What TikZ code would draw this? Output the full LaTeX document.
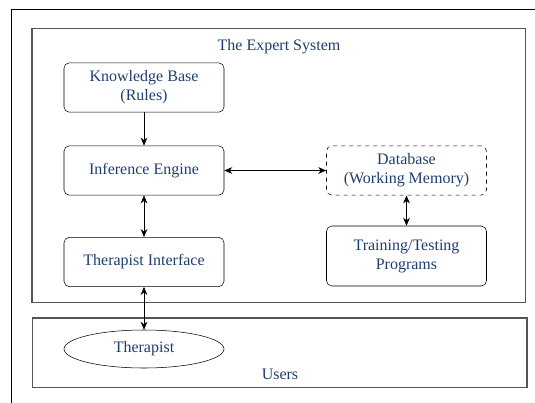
\documentclass[tikz,border=0pt]{standalone}
\usepackage{fontspec}
\setmainfont{Liberation Serif}
\usetikzlibrary{shapes.geometric,arrows.meta}
\definecolor{labelblue}{RGB}{31,62,112}
\definecolor{framegray}{RGB}{85,85,85}
\begin{document}
\begin{tikzpicture}[
    x=0.75pt, y=-0.75pt,
    font=\fontsize{12}{14.3}\selectfont,
    % Define styles
    groupbox/.style={
        rectangle,
        draw=framegray,
        line width=1pt
    },
    module/.style={
        rectangle,
        rounded corners=4pt,
        draw,
        thin,
        align=center,
        text=labelblue,
        minimum width=120pt,
        minimum height=37pt
    },
    userellipse/.style={
        ellipse,
        draw,
        thin,
        text=labelblue,
        minimum width=120pt,
        minimum height=28.5pt
    },
    caption/.style={
        text=labelblue
    },
    arrow/.style={
        -{Stealth[length=6pt,width=5pt]},
        thin
    },
    biarrow/.style={
        {Stealth[length=6pt,width=5pt]}-{Stealth[length=6pt,width=5pt]},
        thin
    }
]

% Canvas
\useasboundingbox (0,0) rectangle (535,403);

% Outer frame (cut at right and bottom)
\draw[thin] (11,403) -- (11,9) -- (535,9);

% Variables
\def\leftx{144}
\def\rightx{406.5}

% Group boxes
\node[groupbox, minimum width=370pt, minimum height=205pt] (expert) at (278.5,165.5) {};
\node[caption] (experttitle) at (279,47) {The Expert System};

\node[groupbox, minimum width=371pt, minimum height=52pt] (users) at (279.5,352.5) {};
\node[caption] (userslabel) at (280,374) {Users};

% Modules
\node[module] (kb) at (\leftx,87.5) {Knowledge Base\\(Rules)};
\node[module] (ie) at (\leftx,170.5) {Inference Engine};
\node[module] (ti) at (\leftx,262) {Therapist Interface};
\node[module, dashed] (db) at (\rightx,170.5) {Database\\(Working Memory)};
\node[module, minimum height=45pt] (tt) at (\rightx,256) {Training/Testing\\Programs};

% Users
\node[userellipse] (therapist) at (\leftx,349) {Therapist};

% Connectors
\draw[arrow] (kb) -- (ie);
\draw[biarrow] (ie) -- (db);
\draw[biarrow] (ie) -- (ti);
\draw[biarrow] (db) -- (tt);
\draw[biarrow] (ti) -- (therapist);

\end{tikzpicture}
\end{document}
